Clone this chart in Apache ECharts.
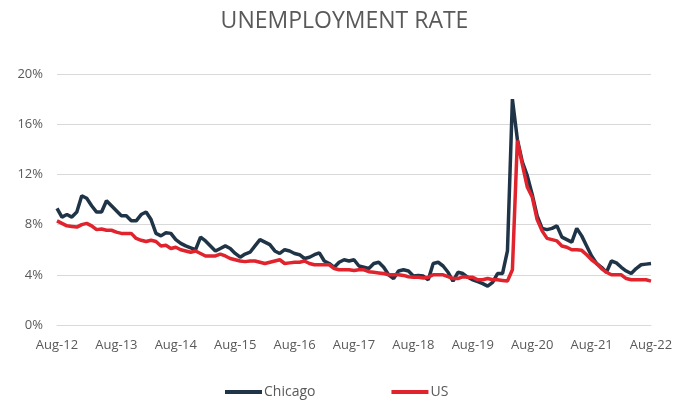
<!DOCTYPE html>
<html>
<head>
<meta charset="utf-8">
<script src="https://cdn.jsdelivr.net/npm/echarts@6/dist/echarts.min.js"></script>
<style>
html,body{margin:0;padding:0;background:#fff;}
#chart{width:689px;height:401px;}
</style>
</head>
<body>
<div id="chart"></div>
<script>
// Monthly categories Aug-12 .. Aug-22
const monthNames = ['Jan','Feb','Mar','Apr','May','Jun','Jul','Aug','Sep','Oct','Nov','Dec'];
const categories = [];
for (let k = 0; k < 121; k++) {
  const m = (7 + k) % 12;
  const y = 12 + Math.floor((7 + k) / 12);
  categories.push(monthNames[m] + '-' + y);
}

const chicago = [
  9.3, 8.6, 8.8, 8.6, 9.0, 10.3, 10.1, 9.5, 9.0, 9.0,
  9.9, 9.5, 9.1, 8.7, 8.7, 8.3, 8.3, 8.8, 9.0, 8.4,
  7.3, 7.1, 7.35, 7.3, 6.8, 6.5, 6.3, 6.15, 6.0, 7.0,
  6.7, 6.3, 5.9, 6.1, 6.3, 6.1, 5.7, 5.4, 5.65, 5.8,
  6.3, 6.8, 6.6, 6.4, 5.9, 5.7, 6.0, 5.9, 5.7, 5.6,
  5.3, 5.4, 5.6, 5.75, 5.1, 4.9, 4.6, 5.0, 5.2, 5.1,
  5.2, 4.7, 4.6, 4.5, 4.9, 5.0, 4.6, 4.0, 3.7, 4.3,
  4.4, 4.3, 3.9, 3.95, 3.9, 3.6, 4.9, 5.0, 4.7, 4.2,
  3.5, 4.2, 4.1, 3.8, 3.6, 3.45, 3.3, 3.1, 3.4, 4.1,
  4.1, 5.9, 18.0, 14.8, 13.0, 11.9, 10.4, 8.7, 7.7, 7.6,
  7.7, 7.9, 7.0, 6.8, 6.6, 7.7, 7.1, 6.3, 5.5, 4.9,
  4.6, 4.2, 5.1, 4.95, 4.6, 4.3, 4.1, 4.5, 4.8, 4.85,
  4.9
];

const us = [
  8.3, 8.1, 7.9, 7.85, 7.8, 8.0, 8.1, 7.9, 7.6, 7.65,
  7.55, 7.55, 7.4, 7.3, 7.3, 7.3, 6.9, 6.75, 6.65, 6.75,
  6.65, 6.3, 6.35, 6.1, 6.2, 6.0, 5.9, 5.8, 5.9, 5.7,
  5.5, 5.5, 5.5, 5.65, 5.5, 5.3, 5.2, 5.1, 5.05, 5.1,
  5.1, 5.0, 4.9, 5.0, 5.1, 5.2, 4.9, 4.95, 5.0, 5.0,
  5.1, 4.9, 4.8, 4.8, 4.8, 4.8, 4.5, 4.4, 4.4, 4.4,
  4.35, 4.4, 4.4, 4.25, 4.2, 4.15, 4.1, 4.0, 4.0, 4.0,
  3.95, 3.85, 3.8, 3.8, 3.75, 3.8, 4.0, 4.0, 4.0, 3.85,
  3.7, 3.7, 3.85, 3.8, 3.8, 3.6, 3.6, 3.7, 3.6, 3.6,
  3.55, 3.5, 4.4, 14.7, 12.8, 11.0, 10.2, 8.4, 7.5, 6.9,
  6.8, 6.7, 6.3, 6.2, 6.0, 6.0, 5.95, 5.6, 5.2, 4.9,
  4.5, 4.2, 4.0, 4.0, 4.0, 3.7, 3.6, 3.6, 3.6, 3.6,
  3.5
];

const yTicks = { min: 0, max: 20, interval: 4 };

const chart = echarts.init(document.getElementById('chart'), null, { renderer: 'canvas' });
const textColor = '#595959';
const fontFam = '"Open Sans", "Liberation Sans", sans-serif';

chart.setOption({
  animation: false,
  backgroundColor: '#ffffff',
  title: {
    text: 'UNEMPLOYMENT RATE',
    left: 'center',
    top: 5,
    textStyle: { color: textColor, fontSize: 23, fontWeight: 'normal', fontFamily: fontFam }
  },
  legend: {
    bottom: -3,
    left: 220,
    icon: 'rect',
    itemWidth: 37,
    itemHeight: 4,
    itemGap: 76,
    textStyle: { color: textColor, fontSize: 14, fontFamily: fontFam, padding: [0, 0, 0, -3] },
    data: ['Chicago', 'US']
  },
  grid: { left: 57, right: 38, top: 74, bottom: 76, containLabel: false },
  xAxis: {
    type: 'category',
    data: categories,
    boundaryGap: false,
    axisLine: { show: true, lineStyle: { color: '#d9d9d9', width: 1 } },
    axisTick: { show: false },
    axisLabel: {
      interval: 11,
      color: textColor,
      fontSize: 13,
      fontFamily: fontFam,
      margin: 14
    },
    splitLine: { show: false }
  },
  yAxis: {
    type: 'value',
    min: yTicks.min,
    max: yTicks.max,
    interval: yTicks.interval,
    axisLine: { show: false },
    axisTick: { show: false },
    axisLabel: {
      formatter: '{value}%',
      color: textColor,
      fontSize: 13,
      fontFamily: fontFam,
      margin: 14
    },
    splitLine: { lineStyle: { color: '#d9d9d9', width: 1 } }
  },
  series: [
    {
      name: 'Chicago',
      type: 'line',
      data: chicago,
      showSymbol: false,
      symbol: 'none',
      lineStyle: { color: '#203448', width: 3.5 },
      itemStyle: { color: '#203448' }
    },
    {
      name: 'US',
      type: 'line',
      data: us,
      showSymbol: false,
      symbol: 'none',
      lineStyle: { color: '#e0232c', width: 3.5 },
      itemStyle: { color: '#e0232c' }
    }
  ]
});
</script>
</body>
</html>
